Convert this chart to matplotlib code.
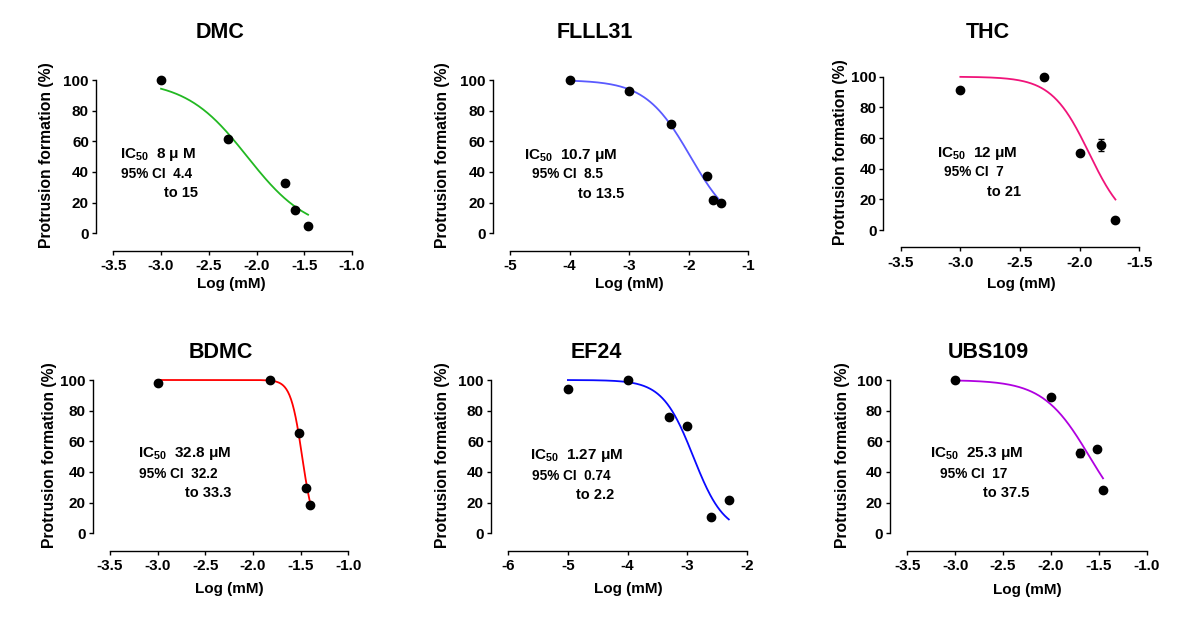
import numpy as np
import matplotlib
matplotlib.use('Agg')
import matplotlib.pyplot as plt

plt.rcParams['font.family'] = ['Liberation Sans', 'DejaVu Sans']
plt.rcParams['font.weight'] = 'bold'
plt.rcParams['mathtext.fontset'] = 'custom'
plt.rcParams['mathtext.rm'] = 'Liberation Sans:bold'
plt.rcParams['mathtext.bf'] = 'Liberation Sans:bold'

W, H = 1198, 619

# Data: log concentration (mM) vs protrusion formation (%)
names = ['DMC', 'FLLL31', 'THC', 'BDMC', 'EF24', 'UBS109']

dmc_x = [-3.0, -2.3, -1.7, -1.6, -1.46]
dmc_y = [100, 61.3, 33, 15.2, 5]
dmc_err = [0, 0, 2, 0, 0]

flll31_x = [-4.0, -3.0, -2.3, -1.7, -1.6, -1.46]
flll31_y = [100, 93, 71.5, 37.6, 21.7, 20]
flll31_err = [0, 0, 0, 0, 0, 0]

thc_x = [-3.0, -2.3, -2.0, -1.82, -1.7]
thc_y = [91.3, 100, 50, 55.5, 6.5]
thc_err = [0, 0, 0, 4, 0]

bdmc_x = [-3.0, -1.82, -1.52, -1.44, -1.40]
bdmc_y = [97.8, 100, 65.6, 29.3, 18.5]
bdmc_err = [0, 1.5, 0, 0, 0]

ef24_x = [-5.0, -4.0, -3.3, -3.0, -2.6, -2.3]
ef24_y = [94.1, 100, 76.1, 69.8, 10.4, 21.5]
ef24_err = [0, 0, 0, 0, 0, 0]

ubs109_x = [-3.0, -2.0, -1.7, -1.52, -1.456]
ubs109_y = [100, 89.1, 52.2, 54.8, 28.3]
ubs109_err = [0, 0, 2.5, 0, 0]

# fitted dose-response parameters: log IC50 (mM), Hill slope, curve range
log_ic50 = [-2.097, -1.97, -1.92, -1.484, -2.896, -1.597]
hill = [1.35, 1.15, 2.75, 7.2, 1.68, 1.79]
fit_start = [-3.0, -4.0, -3.0, -3.0, -5.0, -3.0]
fit_end = [-1.46, -1.46, -1.70, -1.40, -2.3, -1.456]

ic50_text = ['8 \u03bc M', '10.7 \u03bcM', '12 \u03bcM', '32.8 \u03bcM', '1.27 \u03bcM', '25.3 \u03bcM']
ci_low = ['4.4', '8.5', '7', '32.2', '0.74', '17']
ci_high = ['15', '13.5', '21', '33.3', '2.2', '37.5']

xlims = [(-3.5, -1.0), (-5, -1), (-3.5, -1.5), (-3.5, -1.0), (-6, -2), (-3.5, -1.0)]
xticks = [
    [-3.5, -3.0, -2.5, -2.0, -1.5, -1.0],
    [-5, -4, -3, -2, -1],
    [-3.5, -3.0, -2.5, -2.0, -1.5],
    [-3.5, -3.0, -2.5, -2.0, -1.5, -1.0],
    [-6, -5, -4, -3, -2],
    [-3.5, -3.0, -2.5, -2.0, -1.5, -1.0],
]
tick_fmt = ['%.1f', '%d', '%.1f', '%.1f', '%d', '%.1f']
colors = ['#22b822', '#5a5aff', '#f0147a', '#ff0000', '#0a0aff', '#b000e0']

xs = [dmc_x, flll31_x, thc_x, bdmc_x, ef24_x, ubs109_x]
ys = [dmc_y, flll31_y, thc_y, bdmc_y, ef24_y, ubs109_y]
errs = [dmc_err, flll31_err, thc_err, bdmc_err, ef24_err, ubs109_err]

# layout in pixels: axes box (x0, x1, y_top, y_bottom)
boxes = [
    (113.3, 352.0, 80.0, 233.3),
    (510.0, 748.3, 80.0, 233.3),
    (900.7, 1139.3, 76.7, 230.0),
    (110.0, 348.3, 380.0, 533.3),
    (508.3, 746.7, 380.0, 533.3),
    (907.3, 1146.7, 380.0, 533.3),
]
title_pos = [(220, 32), (595, 32), (988, 32), (221, 353), (596, 353), (988, 353)]
ylabel_pos = [(47, 155), (443, 155), (840, 152), (50, 455), (443, 455), (842, 455)]
xlabel_pos = [(231, 284), (629, 284), (1021, 284), (229, 589), (628, 589), (1027, 590)]
# text block: (x line1, x line2, x line3, y line1 center)
note_pos = [
    (120, 121, 164, 154),
    (524, 532, 578, 155),
    (937, 944, 987, 153),
    (138, 139, 185, 454),
    (530, 532, 576, 456),
    (930, 940, 983, 454),
]

fig = plt.figure(figsize=(W / 100, H / 100), dpi=100)


def px(x, y):
    return x / W, 1 - y / H


for i, name in enumerate(names):
    x0, x1, yt, yb = boxes[i]
    ax = fig.add_axes([x0 / W, 1 - yb / H, (x1 - x0) / W, (yb - yt) / H])
    ax.set_facecolor('none')

    # fitted curve
    cx = np.linspace(fit_start[i], fit_end[i], 200)
    cy = 100 / (1 + 10 ** ((cx - log_ic50[i]) * hill[i]))
    ax.plot(cx, cy, color=colors[i], lw=1.3, clip_on=False, zorder=2)

    ax.errorbar(xs[i], ys[i], yerr=errs[i], fmt='o', color='black', ms=6,
                elinewidth=1, capsize=2.5, capthick=1, clip_on=False, zorder=3)

    ax.set_xlim(*xlims[i])
    ax.set_ylim(0, 100)
    ax.set_xticks(xticks[i])
    ax.set_xticklabels([tick_fmt[i] % t for t in xticks[i]])
    ax.set_yticks([0, 20, 40, 60, 80, 100])

    for s in ['top', 'right']:
        ax.spines[s].set_visible(False)
    ax.spines['left'].set_position(('outward', 12.5))
    ax.spines['bottom'].set_position(('outward', 12.5))
    ax.spines['left'].set_linewidth(1)
    ax.spines['bottom'].set_linewidth(1)
    ax.tick_params(length=3, width=1, labelsize=11, pad=2)
    ax.tick_params(axis='x', pad=3)
    for lab in ax.get_xticklabels() + ax.get_yticklabels():
        lab.set_fontweight('bold')

    tx, ty = title_pos[i]
    fig.text(*px(tx, ty), name, ha='center', va='center', fontsize=15.5, fontweight='bold')
    lx, ly = ylabel_pos[i]
    fig.text(*px(lx, ly), 'Protrusion formation (%)', rotation=90, ha='center', va='center',
             fontsize=11.3, fontweight='bold')
    bx, by = xlabel_pos[i]
    fig.text(*px(bx, by), 'Log (mM)', ha='center', va='center', fontsize=11, fontweight='bold')

    n1, n2, n3, ny = note_pos[i]
    fig.text(*px(n1, ny), r'IC$_{50}$  ' + ic50_text[i], ha='left', va='center', fontsize=11,
             fontweight='bold')
    fig.text(*px(n2, ny + 19.5), '95% CI  ' + ci_low[i], ha='left', va='center', fontsize=9.8,
             fontweight='bold')
    fig.text(*px(n3, ny + 39), 'to ' + ci_high[i], ha='left', va='center', fontsize=10.5,
             fontweight='bold')

fig.savefig('out.png', dpi=100, facecolor='white')
